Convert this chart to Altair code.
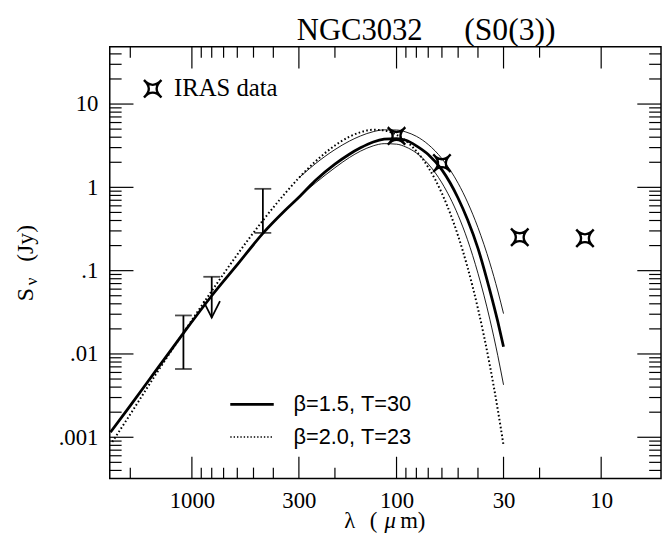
import altair as alt
import pandas as pd

# ---------------- data ----------------
# thick solid model curve (beta=1.5, T=30)
lam_thick = [2500, 2000, 1500, 1100, 800, 600, 450, 350, 300, 250, 200, 170, 150, 130, 115, 100, 90, 80, 70, 60, 50, 45, 40, 35, 32, 30]
s_thick = [0.00115, 0.0024, 0.0063, 0.0178, 0.050, 0.118, 0.28, 0.53, 0.76, 1.20, 1.90, 2.50, 2.98, 3.50, 3.78, 3.85, 3.68, 3.15, 2.48, 1.62, 0.74, 0.41, 0.185, 0.058, 0.0244, 0.0122]

# dotted model curve (beta=2.0, T=23)
lam_dot = [2450, 2000, 1500, 1100, 800, 600, 450, 350, 300, 250, 200, 170, 150, 130, 115, 100, 90, 80, 70, 60, 50, 45, 40, 35, 32, 30]
s_dot = [0.00088, 0.00189, 0.0057, 0.018, 0.057, 0.156, 0.40, 0.85, 1.30, 2.03, 3.18, 4.05, 4.59, 4.91, 4.82, 4.27, 3.61, 2.72, 1.74, 0.845, 0.261, 0.11, 0.035, 0.0073, 0.00214, 0.0008]

# thin solid curves (upper and lower)
lam_hi = [300, 250, 200, 170, 150, 130, 115, 100, 90, 80, 70, 60, 50, 45, 40, 35, 32, 30]
s_hi = [1.30, 1.91, 2.84, 3.59, 4.14, 4.66, 4.90, 4.88, 4.62, 4.10, 3.27, 2.21, 1.12, 0.665, 0.329, 0.124, 0.057, 0.0305]
lam_lo = [300, 250, 200, 170, 150, 130, 115, 100, 90, 80, 70, 60, 50, 45, 40, 35, 32, 30]
s_lo = [0.76, 1.12, 1.72, 2.28, 2.72, 3.15, 3.345, 3.30, 3.05, 2.585, 1.91, 1.13, 0.462, 0.235, 0.093, 0.0261, 0.00954, 0.00426]

# IRAS data
iras_lam = [100, 60, 25, 12]
iras_s = [4.14, 1.95, 0.252, 0.245]

# sub-mm error bars
err_lam = [1100, 450]
err_lo = [0.0066, 0.284]
err_hi = [0.029, 0.96]

# upper limit
lim_lam = [800]
lim_top = [0.0844]
lim_bot = [0.0273]

# axis ticks
x_major = [1000, 300, 100, 30, 10]
x_minor = [2000, 900, 800, 700, 600, 500, 400, 200, 90, 80, 70, 60, 50, 40, 20]
y_major = [10, 1, 0.1, 0.01, 0.001]
y_minor = [40, 30, 20,
           9, 8, 7, 6, 5, 4, 3, 2,
           0.9, 0.8, 0.7, 0.6, 0.5, 0.4, 0.3, 0.2,
           0.09, 0.08, 0.07, 0.06, 0.05, 0.04, 0.03, 0.02,
           0.009, 0.008, 0.007, 0.006, 0.005, 0.004, 0.003, 0.002,
           0.0009, 0.0008, 0.0007, 0.0006, 0.0005, 0.0004]

# ---------------- chart ----------------
W, H = 558, 437
SERIF = "Liberation Serif"
SANS = "Liberation Sans"

xs = alt.Scale(type="log", domain=[5.1, 2520], reverse=True, nice=False)
ys = alt.Scale(type="log", domain=[0.00032, 48.7], nice=False)

STAR = "M-1,-1 Q0,0.1 1,-1 Q-0.1,0 1,1 Q0,-0.1 -1,1 Q0.1,0 -1,-1 Z"
ARROW = "M-0.5,-1 L0,0 L0.5,-1"

x_axis = alt.Axis(values=x_major, format="d", ticks=False, domain=False, grid=False,
                  title=None, labelFont=SERIF, labelFontSize=23, labelColor="black",
                  labelPadding=11, labelOverlap=False, labelFlush=False, labelBound=False)
y_axis = alt.Axis(values=y_major, ticks=False, domain=False, grid=False, title=None,
                  labelExpr="datum.value >= 1 ? format(datum.value, 'd') : substring(format(datum.value, '~g'), 1)",
                  labelFont=SERIF, labelFontSize=23, labelColor="black", labelPadding=12,
                  labelOverlap=False, labelFlush=False, labelBound=False)


def X():
    return alt.X("lam:Q", scale=xs, axis=x_axis)


def Y(field="S"):
    return alt.Y(f"{field}:Q", scale=ys, axis=y_axis)


def line_layer(lams, ss, width, dash=None):
    df = pd.DataFrame({"lam": lams, "S": ss})
    kw = dict(color="black", strokeWidth=width, interpolate="monotone", clip=True)
    if dash:
        kw["strokeDash"] = dash
        kw["strokeCap"] = "butt"
    return alt.Chart(df).mark_line(**kw).encode(
        x=X(), y=Y(), order=alt.Order("lam:Q", sort="descending"))


one = alt.Data(values=[{"k": 0}])


def txt(s, x, y, size, font=SERIF, align="center", baseline="alphabetic", angle=0, style="normal"):
    kw = dict(text=s, font=font, fontSize=size, align=align, baseline=baseline,
              color="black", fontStyle=style)
    if angle:
        kw["angle"] = angle
    return alt.Chart(one).mark_text(**kw).encode(x=alt.value(x), y=alt.value(y))


layers = []

# ticks (inward, all four sides)
dfxM = pd.DataFrame({"lam": x_major})
dfxm = pd.DataFrame({"lam": x_minor})
dfyM = pd.DataFrame({"S": y_major})
dfym = pd.DataFrame({"S": y_minor})

tk = dict(color="black", strokeWidth=1.2)
layers.append(alt.Chart(dfxM).mark_rule(**tk).encode(x=X(), y=alt.value(H), y2=alt.value(H - 22)))
layers.append(alt.Chart(dfxM).mark_rule(**tk).encode(x=X(), y=alt.value(0), y2=alt.value(22)))
layers.append(alt.Chart(dfxm).mark_rule(**tk).encode(x=X(), y=alt.value(H), y2=alt.value(H - 11)))
layers.append(alt.Chart(dfxm).mark_rule(**tk).encode(x=X(), y=alt.value(0), y2=alt.value(11)))
layers.append(alt.Chart(dfyM).mark_rule(**tk).encode(y=Y(), x=alt.value(0), x2=alt.value(24)))
layers.append(alt.Chart(dfyM).mark_rule(**tk).encode(y=Y(), x=alt.value(W), x2=alt.value(W - 24)))
layers.append(alt.Chart(dfym).mark_rule(**tk).encode(y=Y(), x=alt.value(0), x2=alt.value(12)))
layers.append(alt.Chart(dfym).mark_rule(**tk).encode(y=Y(), x=alt.value(W), x2=alt.value(W - 12)))

# model curves
layers.append(line_layer(lam_hi, s_hi, 0.9))
layers.append(line_layer(lam_lo, s_lo, 0.9))
layers.append(line_layer(lam_dot, s_dot, 2.0, dash=[1.6, 2.4]))
layers.append(line_layer(lam_thick, s_thick, 2.8))

# error bars
dferr = pd.DataFrame({"lam": err_lam, "lo": err_lo, "hi": err_hi})
layers.append(alt.Chart(dferr).mark_rule(color="black", strokeWidth=1.8).encode(
    x=X(), y=Y("lo"), y2="hi:Q"))
caps = pd.DataFrame({"lam": err_lam + err_lam + lim_lam, "S": err_lo + err_hi + lim_top})
layers.append(alt.Chart(caps).mark_tick(orient="horizontal", size=17, thickness=1.8, color="black").encode(
    x=X(), y=Y()))

# upper limit
dflim = pd.DataFrame({"lam": lim_lam, "top": lim_top, "bot": lim_bot})
layers.append(alt.Chart(dflim).mark_rule(color="black", strokeWidth=1.8).encode(
    x=X(), y=Y("top"), y2="bot:Q"))
dfarr = pd.DataFrame({"lam": lim_lam, "S": lim_bot})
layers.append(alt.Chart(dfarr).mark_point(shape=ARROW, size=1115, filled=False, color="black",
                                          strokeWidth=1.8, opacity=1).encode(x=X(), y=Y()))

# IRAS stars
dfi = pd.DataFrame({"lam": iras_lam, "S": iras_s})
layers.append(alt.Chart(dfi).mark_point(shape=STAR, size=310, filled=False, color="black",
                                        strokeWidth=2.4, opacity=1).encode(x=X(), y=Y()))

# legend: IRAS
layers.append(alt.Chart(one).mark_point(shape=STAR, size=310, filled=False, color="black",
                                        strokeWidth=2.4, opacity=1).encode(x=alt.value(43.5), y=alt.value(42.5)))
layers.append(txt("IRAS data", 65, 50, 25, align="left"))

# legend: curves
layers.append(alt.Chart(one).mark_rule(color="black", strokeWidth=2.8).encode(
    x=alt.value(122), x2=alt.value(166), y=alt.value(362)))
layers.append(alt.Chart(one).mark_rule(color="black", strokeWidth=1.6, strokeDash=[1.4, 2.0], strokeCap="butt").encode(
    x=alt.value(122), x2=alt.value(166), y=alt.value(395)))
layers.append(txt("β=1.5, T=30", 186, 362, 22, font=SANS, align="left", baseline="middle"))
layers.append(txt("β=2.0, T=23", 186, 395, 22, font=SANS, align="left", baseline="middle"))

# title
layers.append(txt("NGC3032", 253, -7, 31))
layers.append(txt("(S0(3))", 405, -7, 32))

# y-axis title: S_nu (Jy)
layers.append(txt("S", -78, 251, 24, angle=270))
layers.append(txt("ν", -74, 237.5, 17, angle=270))
layers.append(txt("(Jy)", -78, 199, 24, angle=270))

# x-axis title: lambda (mu m)
layers.append(txt("λ", 243, 487, 23))
layers.append(txt("(", 267, 487, 23))
layers.append(txt("μ", 284, 487, 23, style="italic"))
layers.append(txt("m)", 294, 487, 23, align="left"))

chart = alt.layer(*layers).properties(
    width=W, height=H,
    autosize=alt.AutoSizeParams(type="none"),
    padding={"left": 103, "top": 36, "right": 1, "bottom": 58},
).configure_view(stroke="black", strokeWidth=1.5)

chart.save("out.html", embed_options={"renderer": "svg", "actions": False})
